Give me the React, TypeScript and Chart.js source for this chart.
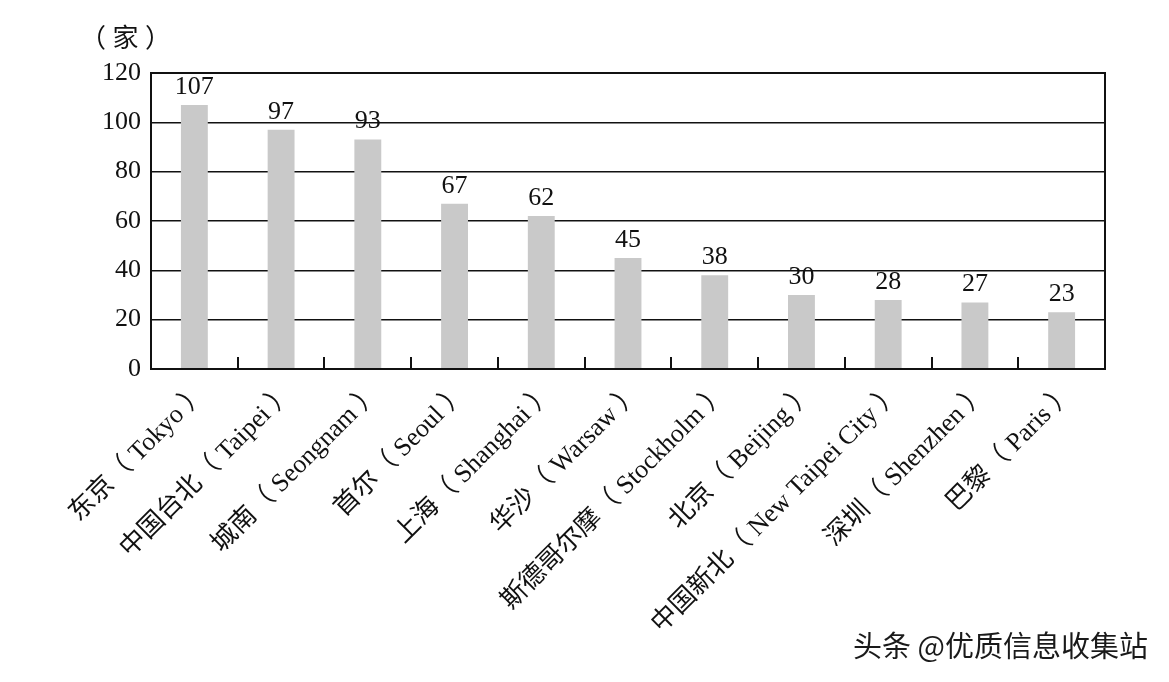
import React, { useEffect, useRef } from "react";
import { Chart, registerables } from "chart.js";

Chart.register(...registerables);

const categories = [
  "东京（ Tokyo ）",
  "中国台北（ Taipei ）",
  "城南（ Seongnam ）",
  "首尔（ Seoul ）",
  "上海（ Shanghai ）",
  "华沙（ Warsaw ）",
  "斯德哥尔摩（ Stockholm ）",
  "北京（ Beijing ）",
  "中国新北（ New Taipei City ）",
  "深圳（ Shenzhen ）",
  "巴黎（ Paris ）",
];
const values = [107, 97, 93, 67, 62, 45, 38, 30, 28, 27, 23];
const yMin = 0;
const yMax = 120;
const yStep = 20;
const unitLabel = "（ 家 ）";
const watermark = "头条 @优质信息收集站";

const SERIF = "'Liberation Serif', 'Noto Sans CJK SC', serif";
const SANS = "'Noto Sans CJK SC', 'Noto Sans', sans-serif";

export default function App() {
  const ref = useRef<HTMLCanvasElement | null>(null);

  useEffect(() => {
    if (!ref.current) return;

    const extras = {
      id: "extras",
      afterDatasetsDraw(chart: any) {
        const ctx = chart.ctx;
        const meta = chart.getDatasetMeta(0);
        ctx.save();
        ctx.fillStyle = "#111";
        ctx.font = `26px ${SERIF}`;
        ctx.textAlign = "center";
        ctx.textBaseline = "bottom";
        meta.data.forEach((bar: any, i: number) => {
          ctx.fillText(String(values[i]), bar.x, bar.y - 5);
        });
        ctx.restore();
      },
      afterDraw(chart: any) {
        const ctx = chart.ctx;
        const a = chart.chartArea;
        const xs = chart.scales.x;
        ctx.save();
        ctx.strokeStyle = "#111";
        ctx.lineWidth = 2;
        ctx.strokeRect(a.left, a.top, a.right - a.left, a.bottom - a.top);
        // inner tick marks at category boundaries
        for (let i = 1; i < categories.length; i++) {
          const x = (xs.getPixelForValue(i - 1) + xs.getPixelForValue(i)) / 2;
          ctx.beginPath();
          ctx.moveTo(Math.round(x), a.bottom);
          ctx.lineTo(Math.round(x), a.bottom - 12);
          ctx.stroke();
        }
        // unit label
        ctx.fillStyle = "#111";
        ctx.font = `26px ${SERIF}`;
        ctx.textAlign = "left";
        ctx.textBaseline = "middle";
        ctx.fillText(unitLabel, 80, 40);
        // watermark
        ctx.font = `29px ${SANS}`;
        ctx.fillStyle = "#1a1a1a";
        ctx.textAlign = "right";
        ctx.fillText(watermark, 1148, 646);
        ctx.restore();
      },
    };

    const chart = new Chart(ref.current, {
      type: "bar",
      data: {
        labels: categories,
        datasets: [
          {
            data: values,
            backgroundColor: "#c9c9c9",
            borderWidth: 0,
            categoryPercentage: 1,
            barPercentage: 0.31,
          },
        ],
      },
      options: {
        animation: false,
        responsive: true,
        maintainAspectRatio: false,
        layout: { padding: { top: 73, right: 64, left: 0, bottom: 0 } },
        plugins: {
          legend: { display: false },
          tooltip: { enabled: false },
          title: { display: false },
        },
        scales: {
          x: {
            grid: { display: false, drawTicks: false },
            border: { display: true, color: "#111", width: 2 },
            ticks: {
              autoSkip: false,
              maxRotation: 45,
              minRotation: 45,
              padding: 8,
              labelOffset: 9,
              color: "#111",
              font: { family: SERIF, size: 26 },
            },
            afterFit(scale: any) {
              scale.height = 313;
            },
          },
          y: {
            min: yMin,
            max: yMax,
            grid: { color: "#111", lineWidth: 1.6, drawTicks: false },
            border: { display: true, color: "#111", width: 2 },
            ticks: {
              stepSize: yStep,
              padding: 10,
              color: "#111",
              font: { family: SERIF, size: 26 },
            },
            afterFit(scale: any) {
              scale.width = 151;
            },
          },
        },
      },
      plugins: [extras],
    });
    return () => chart.destroy();
  }, []);

  return (
    <div style={{ position: "absolute", left: 0, top: 0, width: 1169, height: 682, background: "#fff" }}>
      <canvas ref={ref} />
    </div>
  );
}
